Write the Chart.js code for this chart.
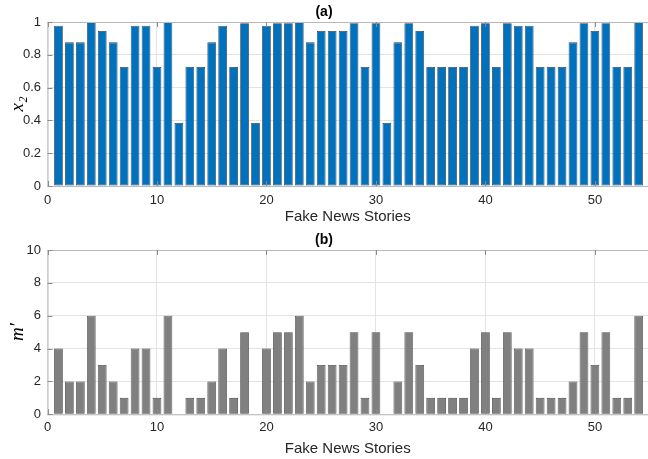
<!DOCTYPE html>
<html>
<head>
<meta charset="utf-8">
<title>Fake News Stories</title>
<script src="https://cdn.jsdelivr.net/npm/chart.js@4.4.1/dist/chart.umd.min.js"></script>
<style>
  html, body { margin: 0; padding: 0; background: #fff; }
  #wrap { position: relative; width: 648px; height: 459px; overflow: hidden; }
  .pane { position: absolute; left: 0; width: 648px; }
</style>
</head>
<body>
<div id="wrap">
  <div class="pane" style="top:0;height:229px"><canvas id="chartA"></canvas></div>
  <div class="pane" style="top:229px;height:230px"><canvas id="chartB"></canvas></div>
</div>
<script>
// story index 1..54
const stories = [1, 2, 3, 4, 5, 6, 7, 8, 9, 10, 11, 12, 13, 14, 15, 16, 17, 18,
  19, 20, 21, 22, 23, 24, 25, 26, 27, 28, 29, 30, 31, 32, 33, 34, 35, 36,
  37, 38, 39, 40, 41, 42, 43, 44, 45, 46, 47, 48, 49, 50, 51, 52, 53, 54];

// panel (a): x2 per story
const x2Values = [0.977, 0.876, 0.876, 1.0, 0.945, 0.876, 0.726, 0.977, 0.977, 0.726,
  1.0, 0.384, 0.726, 0.726, 0.876, 0.977, 0.726, 0.992, 0.384, 0.977,
  0.992, 0.992, 1.0, 0.876, 0.945, 0.945, 0.945, 0.992, 0.726, 0.992,
  0.384, 0.876, 0.992, 0.945, 0.726, 0.726, 0.726, 0.726, 0.977, 0.992,
  0.726, 0.992, 0.977, 0.977, 0.726, 0.726, 0.726, 0.876, 0.992, 0.945,
  0.992, 0.726, 0.726, 1.0];

// panel (b): m' per story
const mValues = [4, 2, 2, 6, 3, 2, 1, 4, 4, 1,
  6, 0, 1, 1, 2, 4, 1, 5, 0, 4,
  5, 5, 6, 2, 3, 3, 3, 5, 1, 5,
  0, 2, 5, 3, 1, 1, 1, 1, 4, 5,
  1, 5, 4, 4, 1, 1, 1, 2, 5, 3,
  5, 1, 1, 6];

const xTicks = [0, 10, 20, 30, 40, 50];
const x2Ticks = [0, 0.2, 0.4, 0.6, 0.8, 1];
const mTicks = [0, 2, 4, 6, 8, 10];

const SANS = '"Liberation Sans", Arial, Helvetica, sans-serif';
const SERIF = '"Liberation Serif", "DejaVu Serif", serif';

// matlab-like box with inward tick marks
const boxPlugin = {
  id: 'box',
  afterDraw(chart) {
    const { ctx, chartArea: a, scales } = chart;
    ctx.save();
    ctx.strokeStyle = '#b8b8b8';
    ctx.lineWidth = 1;
    ctx.beginPath();
    ctx.moveTo(a.right + 2, a.top + 0.5);
    ctx.lineTo(a.left + 0.5, a.top + 0.5);
    ctx.lineTo(a.left + 0.5, a.bottom + 0.5);
    ctx.lineTo(a.right + 2, a.bottom + 0.5);
    ctx.stroke();
    ctx.strokeStyle = '#8c8c8c';
    ctx.beginPath();
    scales.x.ticks.forEach(t => {
      const px = Math.round(scales.x.getPixelForValue(t.value)) + 0.5;
      ctx.moveTo(px, a.bottom);
      ctx.lineTo(px, a.bottom - 5);
      ctx.moveTo(px, a.top);
      ctx.lineTo(px, a.top + 5);
    });
    scales.y.ticks.forEach(t => {
      const py = Math.round(scales.y.getPixelForValue(t.value)) + 0.5;
      ctx.moveTo(a.left, py);
      ctx.lineTo(a.left + 5, py);
    });
    ctx.stroke();
    ctx.restore();
  }
};

function makeChart(id, opts) {
  return new Chart(document.getElementById(id), {
    type: 'bar',
    data: {
      datasets: [{
        data: stories.map((s, i) => ({ x: s, y: opts.values[i] })),
        backgroundColor: opts.fill,
        borderColor: opts.edge,
        borderWidth: 0.8,
        borderSkipped: false,
        barPercentage: 0.8,
        categoryPercentage: 1.0
      }]
    },
    options: {
      responsive: true,
      maintainAspectRatio: false,
      animation: false,
      layout: { padding: { left: 0, right: 0, top: 0, bottom: 0 } },
      plugins: {
        legend: { display: false },
        tooltip: { enabled: false },
        title: {
          display: true,
          text: opts.title,
          color: '#000',
          font: { family: SANS, size: 14, weight: 'bold', lineHeight: 1.15 },
          padding: opts.titlePad
        }
      },
      scales: {
        x: {
          type: 'linear',
          min: 0,
          max: 54.85,
          offset: false,
          afterBuildTicks: (s) => { s.ticks = xTicks.map(v => ({ value: v })); },
          afterFit: (s) => { s.height = opts.xHeight; },
          grid: { color: '#e3e3e3', drawTicks: false, offset: false },
          border: { display: false },
          ticks: { color: '#262626', font: { family: SANS, size: 13 }, padding: opts.tickPad, maxRotation: 0 },
          title: {
            display: true,
            text: 'Fake News Stories',
            color: '#262626',
            font: { family: SANS, size: 15 },
            padding: { top: 0, bottom: opts.xTitlePad }
          }
        },
        y: {
          min: 0,
          max: opts.yMax,
          afterBuildTicks: (s) => { s.ticks = opts.yTicks.map(v => ({ value: v })); },
          afterFit: (s) => { s.width = 47.5; },
          grid: { color: '#e3e3e3', drawTicks: false },
          border: { display: false },
          ticks: {
            color: '#262626',
            font: { family: SANS, size: 13 },
            padding: 6.5,
            callback: (v) => String(+v.toFixed(1))
          },
          title: {
            display: true,
            text: opts.yLabel,
            color: '#000',
            font: { family: SERIF, size: 19, style: 'italic', lineHeight: 1 },
            padding: { top: 8, bottom: 0 }
          }
        }
      }
    },
    plugins: [boxPlugin]
  });
}

makeChart('chartA', {
  values: x2Values, title: '(a)', titlePad: { top: 4.5, bottom: 1.4 },
  fill: '#0072bd', edge: 'rgba(20,30,45,0.85)',
  yMax: 1, yTicks: x2Ticks, yLabel: 'x\u2082',
  xHeight: 43, tickPad: 6.2, xTitlePad: 3.3
});

makeChart('chartB', {
  values: mValues, title: '(b)', titlePad: { top: 3.5, bottom: 1.4 },
  fill: '#808080', edge: 'rgba(40,40,40,0.85)',
  yMax: 10, yTicks: mTicks, yLabel: 'm\u2032',
  xHeight: 44.7, tickPad: 5.6, xTitlePad: 1.3
});
</script>
</body>
</html>
